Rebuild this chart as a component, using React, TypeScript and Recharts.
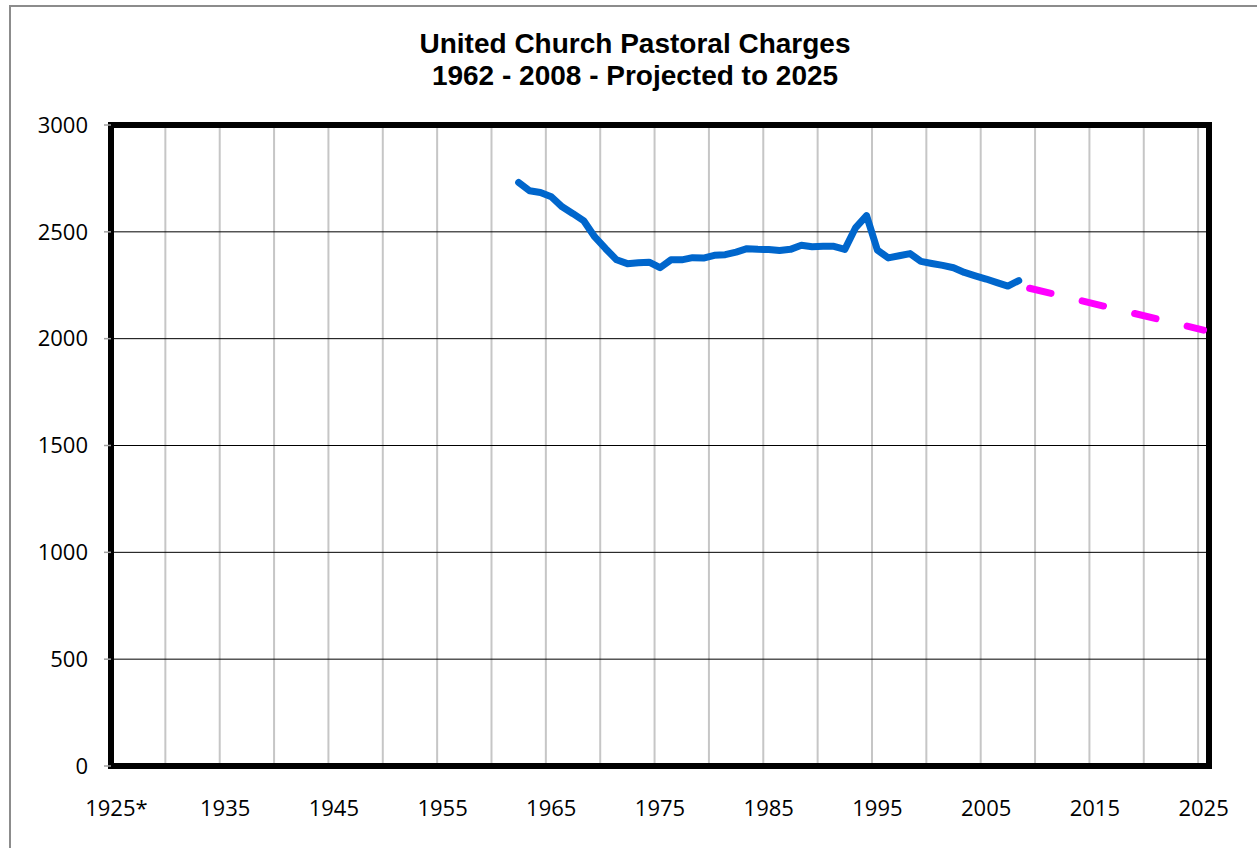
import React from 'react';
import {
  LineChart,
  Line,
  XAxis,
  YAxis,
  CartesianGrid,
  ReferenceArea,
} from 'recharts';

// Pastoral charges
const historyYears = [
  1962, 1963, 1964, 1965, 1966, 1967, 1968, 1969, 1970, 1971, 1972, 1973,
  1974, 1975, 1976, 1977, 1978, 1979, 1980, 1981, 1982, 1983, 1984, 1985,
  1986, 1987, 1988, 1989, 1990, 1991, 1992, 1993, 1994, 1995, 1996, 1997,
  1998, 1999, 2000, 2001, 2002, 2003, 2004, 2005, 2006, 2007, 2008,
];
const historyCharges = [
  2731, 2692, 2684, 2664, 2617, 2585, 2551, 2476, 2421, 2369, 2351, 2355,
  2358, 2332, 2369, 2369, 2379, 2377, 2390, 2393, 2405, 2421, 2418, 2417,
  2413, 2418, 2437, 2430, 2432, 2432, 2418, 2520, 2576, 2414, 2378, 2388,
  2398, 2362, 2352, 2343, 2332, 2310, 2294, 2279, 2262, 2246, 2272,
];
const projectionYears = [2009, 2025];
const projectionCharges = [2236, 2040];

const labelYears = [1925, 1935, 1945, 1955, 1965, 1975, 1985, 1995, 2005, 2015, 2025];
const yTicks = [0, 500, 1000, 1500, 2000, 2500, 3000];

// categories run 1925..2025, grid/tick marks sit between categories every 5 years
const firstYear = 1925;
const lastYear = 2025;
const xDomain = [firstYear - 0.5, lastYear + 0.5];
const boundaryYears = Array.from(
  { length: (lastYear - firstYear) / 5 + 1 },
  (_, i) => firstYear - 0.5 + i * 5
);

const history = historyYears.map((year, i) => ({ year, value: historyCharges[i] }));
const projection = projectionYears.map((year, i) => ({ year, value: projectionCharges[i] }));

const labelFont = "'Open Sans', 'DejaVu Sans', sans-serif";
const emptyTick = () => <g />;

export default function App() {
  return (
    <div
      style={{
        position: 'absolute',
        left: 0,
        top: 0,
        width: 1257,
        height: 848,
        background: '#ffffff',
        overflow: 'hidden',
      }}
    >
      {/* outer chart border */}
      <div
        style={{
          position: 'absolute',
          left: 9,
          top: 5,
          width: 1400,
          height: 1000,
          border: '2px solid #8c8c8c',
        }}
      />

      <svg
        width={1257}
        height={100}
        style={{ position: 'absolute', left: 0, top: 0 }}
      >
        <text
          x={635}
          y={53}
          textAnchor="middle"
          fontFamily="'Liberation Sans', Arial, sans-serif"
          fontWeight="bold"
          fontSize={28}
          fill="#000"
        >
          United Church Pastoral Charges
        </text>
        <text
          x={635}
          y={85}
          textAnchor="middle"
          fontFamily="'Liberation Sans', Arial, sans-serif"
          fontWeight="bold"
          fontSize={28}
          fill="#000"
        >
          1962 - 2008 - Projected to 2025
        </text>
      </svg>

      <div style={{ position: 'absolute', left: 0, top: 0 }}>
        <LineChart
          width={1257}
          height={848}
          margin={{ top: 125, right: 48, bottom: 0, left: 0 }}
        >
          {/* gray vertical grid + tick marks between categories */}
          <CartesianGrid
            xAxisId={0}
            horizontal={false}
            stroke="#c6c6c6"
            strokeWidth={2}
          />
          <CartesianGrid
            xAxisId={1}
            vertical={false}
            stroke="#000000"
            strokeWidth={1}
          />
          <XAxis
            xAxisId={0}
            dataKey="year"
            type="number"
            domain={xDomain}
            ticks={boundaryYears}
            interval={0}
            height={0}
            axisLine={false}
            tickLine={{ stroke: '#a0a0a0', strokeWidth: 1.5 }}
            tickSize={7}
            tick={emptyTick}
            allowDataOverflow
          />
          <XAxis
            xAxisId={1}
            dataKey="year"
            type="number"
            domain={xDomain}
            ticks={labelYears}
            interval={0}
            height={82}
            axisLine={false}
            tickLine={false}
            tickSize={10}
            tickMargin={24}
            tick={{ fill: '#000', fontSize: 22, fontFamily: labelFont }}
            tickFormatter={(v) => (v === firstYear ? `${v}*` : String(v))}
            allowDataOverflow
          />
          <YAxis
            type="number"
            domain={[0, 3000]}
            ticks={yTicks}
            interval={0}
            width={111}
            axisLine={false}
            tickLine={{ stroke: '#a0a0a0', strokeWidth: 1.5 }}
            tickSize={7}
            tickMargin={16}
            tick={{ fill: '#000', fontSize: 22, fontFamily: labelFont }}
          />
          <ReferenceArea
            xAxisId={1}
            x1={xDomain[0]}
            x2={xDomain[1]}
            y1={0}
            y2={3000}
            fill="none"
            fillOpacity={0}
            stroke="#000000"
            strokeWidth={6}
            ifOverflow="visible"
          />
          <Line
            xAxisId={1}
            data={history}
            dataKey="value"
            stroke="#0066cc"
            strokeWidth={7}
            strokeLinejoin="round"
            strokeLinecap="round"
            dot={false}
            activeDot={false}
            isAnimationActive={false}
          />
          <Line
            xAxisId={1}
            data={projection}
            dataKey="value"
            stroke="#ff00ff"
            strokeWidth={7}
            strokeLinecap="round"
            strokeDasharray="22 32"
            dot={false}
            activeDot={false}
            isAnimationActive={false}
          />
        </LineChart>
      </div>
    </div>
  );
}
